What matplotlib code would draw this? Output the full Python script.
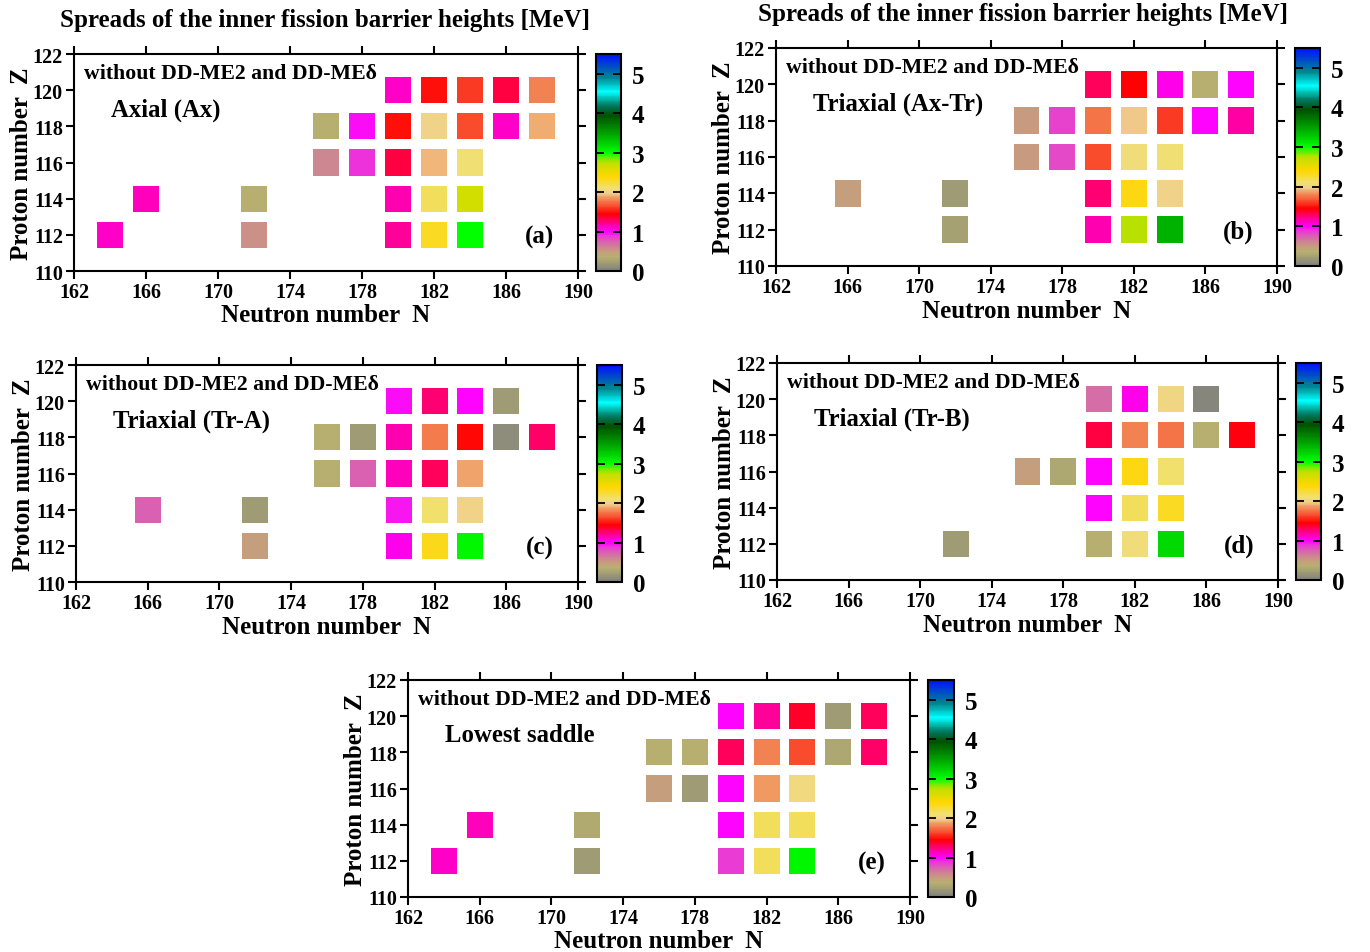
import numpy as np
import matplotlib
matplotlib.use("Agg")
import matplotlib.pyplot as plt
from matplotlib.colors import LinearSegmentedColormap, Normalize
from matplotlib.cm import ScalarMappable

plt.rcParams["font.family"] = ["Liberation Serif", "DejaVu Serif"]
plt.rcParams["font.weight"] = "bold"

TITLE = "Spreads of the inner fission barrier heights [MeV]"
NOTE = "without DD-ME2 and DD-MEδ"

x_ticks = list(range(162, 191, 4))
y_ticks = list(range(110, 123, 2))
cbar_ticks = [0, 1, 2, 3, 4, 5]

# (a) Axial
a_N = [180, 182, 184, 186, 188,
       176, 178, 180, 182, 184, 186, 188,
       176, 178, 180, 182, 184,
       166, 172, 180, 182, 184,
       164, 172, 180, 182, 184]
a_Z = [120] * 5 + [118] * 7 + [116] * 5 + [114] * 5 + [112] * 5
a_V = [1.10, 1.50, 1.60, 1.35, 1.80,
       0.35, 0.97, 1.50, 2.00, 1.65, 1.10, 1.90,
       0.60, 0.90, 1.35, 1.92, 2.10,
       1.12, 0.35, 1.15, 2.15, 2.65,
       1.10, 0.55, 1.20, 2.30, 3.00]

# (b) Triaxial (Ax-Tr)
b_N = [180, 182, 184, 186, 188,
       176, 178, 180, 182, 184, 186, 188,
       176, 178, 180, 182, 184,
       166, 172, 180, 182, 184,
       172, 180, 182, 184]
b_Z = [120] * 5 + [118] * 7 + [116] * 5 + [114] * 5 + [112] * 4
b_V = [1.30, 1.45, 1.05, 0.35, 1.00,
       0.50, 0.85, 1.75, 1.97, 1.60, 1.00, 1.18,
       0.50, 0.82, 1.65, 2.08, 2.10,
       0.48, 0.20, 1.25, 2.35, 2.00,
       0.25, 1.15, 2.75, 3.40]

# (c) Triaxial (Tr-A)
c_N = [180, 182, 184, 186,
       176, 178, 180, 182, 184, 186, 188,
       176, 178, 180, 182, 184,
       166, 172, 180, 182, 184,
       172, 180, 182, 184]
c_Z = [120] * 4 + [118] * 7 + [116] * 5 + [114] * 5 + [112] * 4
c_V = [0.98, 1.25, 1.00, 0.20,
       0.35, 0.20, 1.15, 1.78, 1.47, 0.10, 1.28,
       0.35, 0.75, 1.12, 1.30, 1.88,
       0.75, 0.20, 0.95, 2.12, 2.00,
       0.48, 1.05, 2.33, 3.05]

# (d) Triaxial (Tr-B)
d_N = [180, 182, 184, 186,
       180, 182, 184, 186, 188,
       176, 178, 180, 182, 184,
       180, 182, 184,
       172, 180, 182, 184]
d_Z = [120] * 4 + [118] * 5 + [116] * 5 + [114] * 3 + [112] * 4
d_V = [0.70, 1.05, 2.02, 0.05,
       1.35, 1.80, 1.75, 0.35, 1.42,
       0.48, 0.30, 1.00, 2.35, 2.12,
       1.00, 2.15, 2.30,
       0.20, 0.35, 2.08, 3.20]

# (e) Lowest saddle
e_N = [180, 182, 184, 186, 188,
       176, 178, 180, 182, 184, 186, 188,
       176, 178, 180, 182, 184,
       166, 172, 180, 182, 184,
       164, 172, 180, 182, 184]
e_Z = [120] * 5 + [118] * 7 + [116] * 5 + [114] * 5 + [112] * 5
e_V = [1.00, 1.20, 1.38, 0.20, 1.30,
       0.35, 0.35, 1.30, 1.80, 1.65, 0.30, 1.28,
       0.48, 0.20, 1.00, 1.85, 2.05,
       1.12, 0.32, 1.00, 2.15, 2.15,
       1.10, 0.20, 0.88, 2.15, 3.05]

# colour scale
VMAX = 5.5
cmap_nodes = [
    (0.00, "#808080"), (0.20, "#a09c74"), (0.35, "#b8b070"),
    (0.50, "#c89a80"), (0.68, "#d470a4"), (0.85, "#e840d0"),
    (1.00, "#ff00ff"), (1.20, "#ff0090"), (1.45, "#ff0000"),
    (1.65, "#f85030"), (1.85, "#f09860"), (1.98, "#f0d090"),
    (2.10, "#f0e070"), (2.40, "#ffd700"), (2.75, "#c0e000"),
    (3.00, "#00ff00"), (3.50, "#00a000"), (3.95, "#005000"),
    (4.20, "#007860"), (4.55, "#00ffff"), (4.90, "#008890"),
    (5.50, "#0010ff"),
]
cmap = LinearSegmentedColormap.from_list(
    "spread", [(v / VMAX, c) for v, c in cmap_nodes])
norm = Normalize(0, VMAX)

W, H = 1370, 953
fig = plt.figure(figsize=(W / 100, H / 100), dpi=100)


def px_box(l, t, r, b):
    return [l / W, 1 - b / H, (r - l) / W, (b - t) / H]


panels = [
    (a_N, a_Z, a_V, "Axial (Ax)", "(a)", (74, 55, 578, 272), (596, 621)),
    (b_N, b_Z, b_V, "Triaxial (Ax-Tr)", "(b)", (776, 49, 1277, 267), (1295, 1320)),
    (c_N, c_Z, c_V, "Triaxial (Tr-A)", "(c)", (76, 366, 578, 583), (597, 622)),
    (d_N, d_Z, d_V, "Triaxial (Tr-B)", "(d)", (777, 364, 1278, 581), (1296, 1321)),
    (e_N, e_Z, e_V, "Lowest saddle", "(e)", (408, 681, 910, 898), (928, 954)),
]

cell = 1.45
for N, Z, V, name, tag, (l, t, r, b), (cl, cr) in panels:
    ax = fig.add_axes(px_box(l, t, r, b))
    ax.bar(N, cell, width=cell, bottom=np.array(Z) - cell / 2,
           color=cmap(norm(np.array(V))), linewidth=0)
    ax.set_xlim(162, 190)
    ax.set_ylim(110, 122)
    ax.set_xticks(x_ticks)
    ax.set_yticks(y_ticks)
    ax.tick_params(direction="out", length=6, width=1.5, labelsize=14.5,
                   top=True, right=True, pad=2)
    for s in ax.spines.values():
        s.set_linewidth(1.5)
    ax.set_xlabel("Neutron number  N", fontsize=18, fontweight="bold", labelpad=1)
    ax.set_ylabel("Proton number  Z", fontsize=18, fontweight="bold", labelpad=0)
    ax.text(162.56, 120.95, NOTE, fontsize=15.7, va="center", ha="left")
    ax.text(164.06, 118.96, name, fontsize=17.8, va="center", ha="left")
    ax.text(188.66, 111.9, tag, fontsize=18, va="center", ha="right")

    cax = fig.add_axes(px_box(cl, t, cr, b))
    cb = fig.colorbar(ScalarMappable(norm=norm, cmap=cmap), cax=cax,
                      ticks=cbar_ticks)
    cb.outline.set_linewidth(1.5)
    cax.tick_params(direction="in", length=6, width=1.3, left=True,
                    right=True, labelsize=18, pad=8)

fig.text(325 / W, 1 - 20 / H, TITLE, fontsize=18, ha="center", va="center")
fig.text(1023 / W, 1 - 14 / H, TITLE, fontsize=18, ha="center", va="center")

fig.savefig("out.png", dpi=100)
